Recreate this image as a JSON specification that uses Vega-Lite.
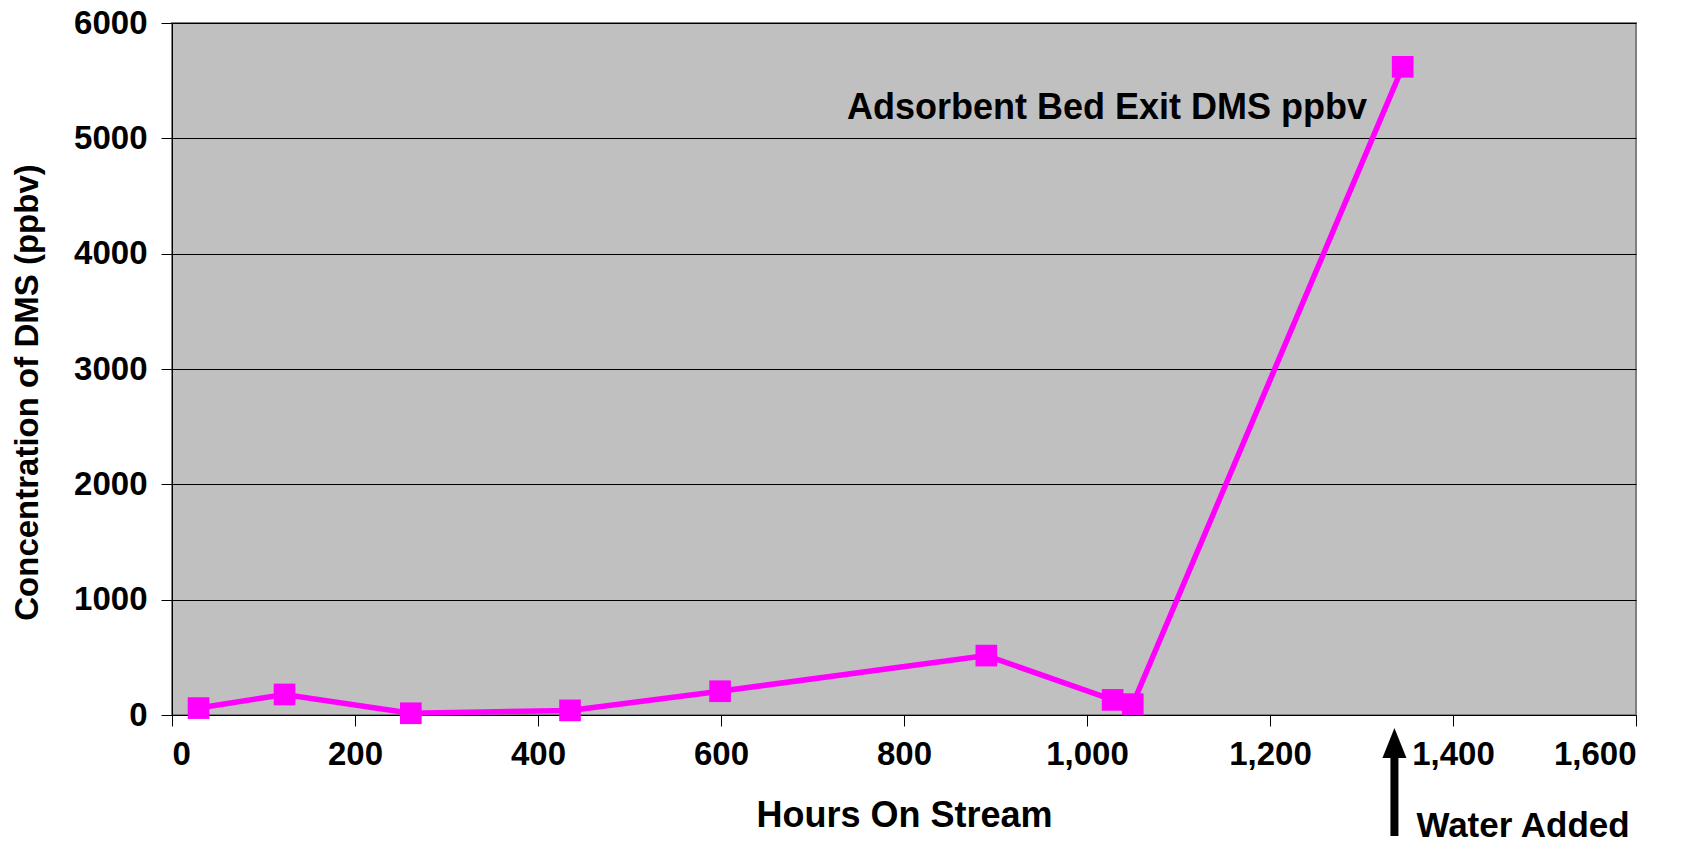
{
  "$schema": "https://vega.github.io/schema/vega-lite/v6.json",
  "autosize": "none",
  "width": 1464,
  "height": 692,
  "padding": {"left": 172, "top": 23, "right": 62, "bottom": 131},
  "background": "white",
  "config": {
    "font": "Liberation Sans",
    "view": {"fill": "#C0C0C0", "stroke": "#808080", "strokeWidth": 2},
    "axis": {
      "labelFont": "Liberation Sans",
      "labelFontWeight": "bold",
      "labelFontSize": 33,
      "labelColor": "black",
      "titleFont": "Liberation Sans",
      "titleFontWeight": "bold",
      "titleFontSize": 33,
      "titleColor": "black",
      "domainColor": "black",
      "tickColor": "black",
      "tickSize": 11
    }
  },
  "data": {
    "values": [
      {"hours": 29, "dms": 60},
      {"hours": 123, "dms": 178},
      {"hours": 261, "dms": 15},
      {"hours": 435, "dms": 40},
      {"hours": 599, "dms": 206},
      {"hours": 890, "dms": 515},
      {"hours": 1028, "dms": 131},
      {"hours": 1050, "dms": 94},
      {"hours": 1345, "dms": 5620}
    ]
  },
  "layer": [
    {
      "mark": {"type": "line", "color": "#FF00FF", "strokeWidth": 5.5},
      "encoding": {
        "x": {
          "field": "hours",
          "type": "quantitative",
          "scale": {"domain": [0, 1600], "nice": false},
          "axis": {
            "title": "Hours On Stream",
            "titleFontSize": 36,
            "values": [0, 200, 400, 600, 800, 1000, 1200, 1400, 1600],
            "format": ",d",
            "grid": false,
            "labelPadding": 12,
            "titleY": 100,
            "titleBaseline": "middle"
          }
        },
        "y": {
          "field": "dms",
          "type": "quantitative",
          "scale": {"domain": [0, 6000], "nice": false},
          "axis": {
            "title": "Concentration of DMS (ppbv)",
            "values": [0, 1000, 2000, 3000, 4000, 5000, 6000],
            "format": "d",
            "grid": true,
            "gridColor": "black",
            "gridWidth": 1,
            "labelPadding": 14,
            "titleX": -145,
            "titleY": 369,
            "titleAngle": -90,
            "titleAlign": "center",
            "titleBaseline": "middle"
          }
        }
      }
    },
    {
      "mark": {"type": "point", "shape": "square", "filled": true, "color": "#FF00FF", "size": 470, "opacity": 1},
      "encoding": {
        "x": {"field": "hours", "type": "quantitative"},
        "y": {"field": "dms", "type": "quantitative"}
      }
    },
    {
      "data": {"values": [{"label": "Adsorbent Bed Exit DMS ppbv"}]},
      "mark": {"type": "text", "align": "right", "baseline": "middle", "fontSize": 36, "fontWeight": "bold", "color": "black"},
      "encoding": {
        "x": {"datum": 1306, "type": "quantitative"},
        "y": {"datum": 5263, "type": "quantitative"},
        "text": {"field": "label"}
      }
    },
    {
      "data": {"values": [{"label": "Water Added"}]},
      "mark": {"type": "rule", "color": "black", "strokeWidth": 8},
      "encoding": {
        "x": {"datum": 1336, "type": "quantitative"},
        "y": {"datum": -240, "type": "quantitative"},
        "y2": {"datum": -1050}
      }
    },
    {
      "data": {"values": [{"label": "Water Added"}]},
      "mark": {"type": "point", "shape": "M0,-1L0.8,1L-0.8,1Z", "filled": true, "color": "black", "size": 900, "opacity": 1},
      "encoding": {
        "x": {"datum": 1336, "type": "quantitative"},
        "y": {"datum": -243, "type": "quantitative"}
      }
    },
    {
      "data": {"values": [{"label": "Water Added"}]},
      "mark": {"type": "text", "align": "left", "baseline": "middle", "fontSize": 35, "fontWeight": "bold", "color": "black"},
      "encoding": {
        "x": {"datum": 1360, "type": "quantitative"},
        "y": {"datum": -960, "type": "quantitative"},
        "text": {"field": "label"}
      }
    }
  ]
}
